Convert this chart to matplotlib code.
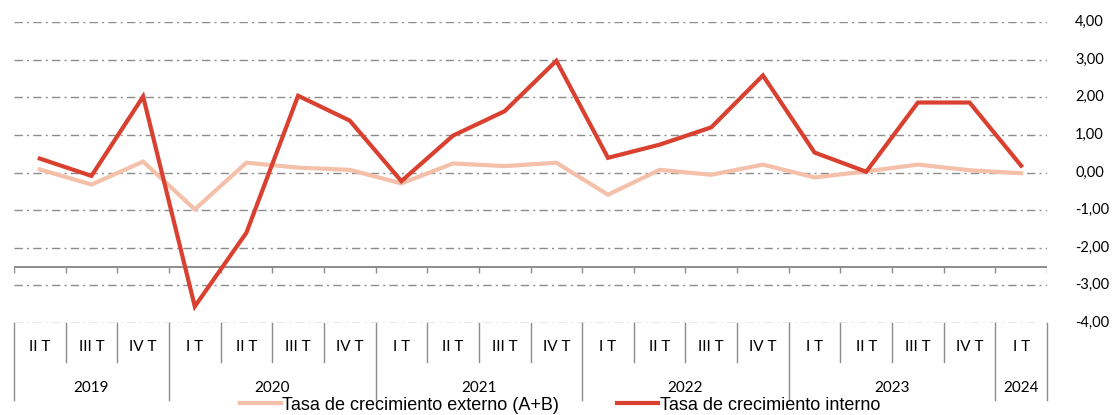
import numpy as np
import matplotlib.pyplot as plt
from matplotlib.lines import Line2D

quarters = ['II T', 'III T', 'IV T',
            'I T', 'II T', 'III T', 'IV T',
            'I T', 'II T', 'III T', 'IV T',
            'I T', 'II T', 'III T', 'IV T',
            'I T', 'II T', 'III T', 'IV T',
            'I T']
years = ['2019', '2020', '2021', '2022', '2023', '2024']
year_len = [3, 4, 4, 4, 4, 1]

externo = [0.08, -0.32, 0.29, -0.98, 0.26, 0.13, 0.07, -0.29, 0.24, 0.17,
           0.26, -0.59, 0.07, -0.06, 0.21, -0.13, 0.03, 0.21, 0.06, -0.02]
interno = [0.37, -0.09, 2.02, -3.56, -1.60, 2.04, 1.38, -0.23, 0.98, 1.63,
           2.97, 0.39, 0.74, 1.20, 2.58, 0.53, 0.02, 1.86, 1.86, 0.18]

c_ext = '#F4C0A9'
c_int = '#D9402F'
c_grid = '#8C8C8C'

fig = plt.figure(figsize=(11.12, 4.15), dpi=100)
W, H = 1112, 415
ax = fig.add_axes([14 / W, (H - 323) / H, (1047 - 14) / W, (323 - 22) / H])

x = np.arange(len(quarters))
ax.plot(x, externo, color=c_ext, lw=3.0, solid_joinstyle='miter', zorder=3)
ax.plot(x, interno, color=c_int, lw=3.0, solid_joinstyle='miter', zorder=4)

ax.set_xlim(-0.5, len(quarters) - 0.5)
ax.set_ylim(-4, 4)
yt = np.arange(-4, 5, 1)
for v in yt:
    ax.axhline(v, color=c_grid, lw=1.0, ls=(0, (6, 3, 1.5, 3)), zorder=1)

# category axis crossing at -2.5
ax.axhline(-2.5, color='#8C8C8C', lw=1.4, zorder=2)
bounds = np.arange(len(quarters) + 1) - 0.5
ax.vlines(bounds, -2.5 - 0.17, -2.5, color='#8C8C8C', lw=1.0, zorder=2)

for s in ax.spines.values():
    s.set_visible(False)
ax.set_xticks([])
ax.set_yticks([])

# value labels on the right
ytr = ax.get_yaxis_transform()
for v in yt:
    ax.text(1 + 28 / 1033, v, '{:.2f}'.format(v).replace('.', ','),
            transform=ytr, ha='left', va='center', fontsize=10.5,
            family='Lato', clip_on=False)

# category label table below the plot
tr = ax.get_xaxis_transform()
for i, q in enumerate(quarters):
    ax.text(i, -0.08, q, transform=tr, ha='center', va='center',
            fontsize=11, family='Lato', clip_on=False)
pos = -0.5
edges = [pos]
for y, n in zip(years, year_len):
    ax.text(pos + n / 2, -0.215, y, transform=tr, ha='center', va='center',
            fontsize=11, family='Lato', clip_on=False)
    pos += n
    edges.append(pos)
for b in bounds:
    low = -0.256 if b in edges else -0.13
    ax.plot([b, b], [0, low], transform=tr, color='#8C8C8C', lw=1.0,
            clip_on=False)

handles = [Line2D([], [], color=c_ext, lw=3.0),
           Line2D([], [], color=c_int, lw=3.0)]
fig.legend(handles, ['Tasa de crecimiento externo (A+B)', 'Tasa de crecimiento interno'],
           loc='center', bbox_to_anchor=(560 / W, (H - 405) / H), ncol=2,
           frameon=False, handlelength=2.25, handletextpad=0.1,
           columnspacing=3.2, borderpad=0,
           prop={'family': 'Liberation Sans', 'size': 13})

fig.savefig('out.png', dpi=100)
